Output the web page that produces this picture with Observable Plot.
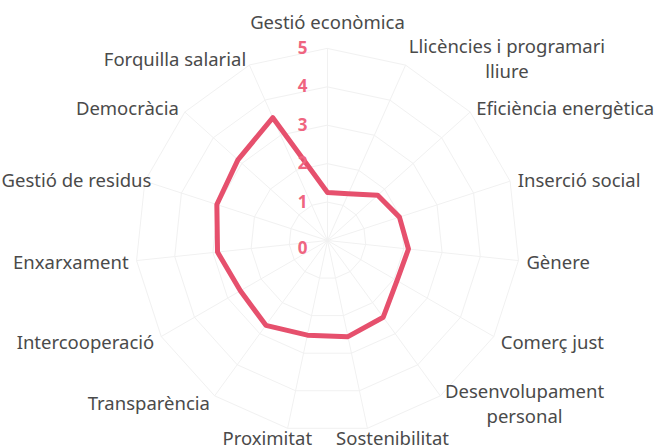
<!DOCTYPE html>
<html><head><meta charset="utf-8">
<script src="https://cdn.jsdelivr.net/npm/d3@7"></script>
<script src="https://cdn.jsdelivr.net/npm/@observablehq/plot@0.6"></script>
<style>body{margin:0;background:#fff}</style>
</head><body>
<div id="chart"></div>
<script>
// ---- data ----
const axes = ["Gestió econòmica","Llicències i programari\nlliure","Eficiència energètica","Inserció social","Gènere","Comerç just","Desenvolupament\npersonal","Sostenibilitat","Proximitat","Transparència","Intercooperació","Enxarxament","Gestió de residus","Democràcia","Forquilla salarial"];
const values = [1.25,1.33,1.76,1.97,2.12,2.09,2.47,2.56,2.52,2.73,2.62,2.88,3.03,3.14,3.5];
const ticks = [0,1,2,3,4,5];

// ---- layout ----
const W = 656, H = 448, cx = 327, cy = 240, unit = 38.4;
const maxV = d3.max(ticks);
const n = axes.length;
const ang = i => 2 * Math.PI * i / n;
const px = (r, i) => r * Math.sin(ang(i));
const py = (r, i) => r * Math.cos(ang(i));

const labelFont = '"Noto Sans", sans-serif';
const labelSize = 18.5;
const ctx = document.createElement("canvas").getContext("2d");
ctx.font = `${labelSize}px ${labelFont}`;
const labelR = 200; // px from centre
const labels = axes.map((name, i) => {
  const s = Math.sin(ang(i)), c = Math.cos(ang(i));
  const w = d3.max(name.split("\n"), l => ctx.measureText(l).width);
  const lx = cx + labelR * s, ly = cy - labelR * c;
  let X, Y;
  if (Math.abs(s) < 0.3) { X = lx + s * w; Y = i === 0 ? ly - 20 : Math.min(ly + 2, H - 12); }
  else { X = lx + Math.sign(s) * w / 2; Y = ly; }
  X = Math.max(X, w / 2 + 1);          // keep text inside the frame
  X = Math.min(X, W - w / 2 - 1);
  return {name, x: (X - cx) / unit, y: (cy - Y) / unit};
});

const rings = ticks.filter(t => t > 0).flatMap(t => axes.map((_, i) => ({t, x: px(t, i), y: py(t, i)})));
const poly = values.map((v, i) => ({x: px(v, i), y: py(v, i)}));

const chart = Plot.plot({
  width: W, height: H, margin: 0,
  style: {background: "#fff"},
  x: {domain: [-cx / unit, (W - cx) / unit], range: [0, W], axis: null},
  y: {domain: [-(H - cy) / unit, cy / unit], range: [H, 0], axis: null},
  marks: [
    Plot.line(rings, {x: "x", y: "y", z: "t", curve: "linear-closed", stroke: "#f1f1f1", strokeWidth: 1}),
    Plot.link(axes.map((_, i) => i), {x1: 0, y1: 0, x2: i => px(maxV, i), y2: i => py(maxV, i), stroke: "#f1f1f1", strokeWidth: 1}),
    Plot.line(poly, {x: "x", y: "y", curve: "linear-closed", stroke: "#e6506d", strokeWidth: 5, strokeLinejoin: "round"}),
    Plot.text(ticks, {x: 0, y: d => d === 0 ? -8 / unit : d, text: d => String(d), dx: -25, fill: "#ef6580", fontWeight: "bold", fontSize: 17, fontFamily: labelFont}),
    Plot.text(labels, {x: "x", y: "y", text: "name", textAnchor: "middle", lineAnchor: "middle", lineHeight: 1.35, fill: "#4a4a4a", fontSize: labelSize, fontFamily: labelFont})
  ]
});
document.getElementById("chart").appendChild(chart);
</script></body></html>
